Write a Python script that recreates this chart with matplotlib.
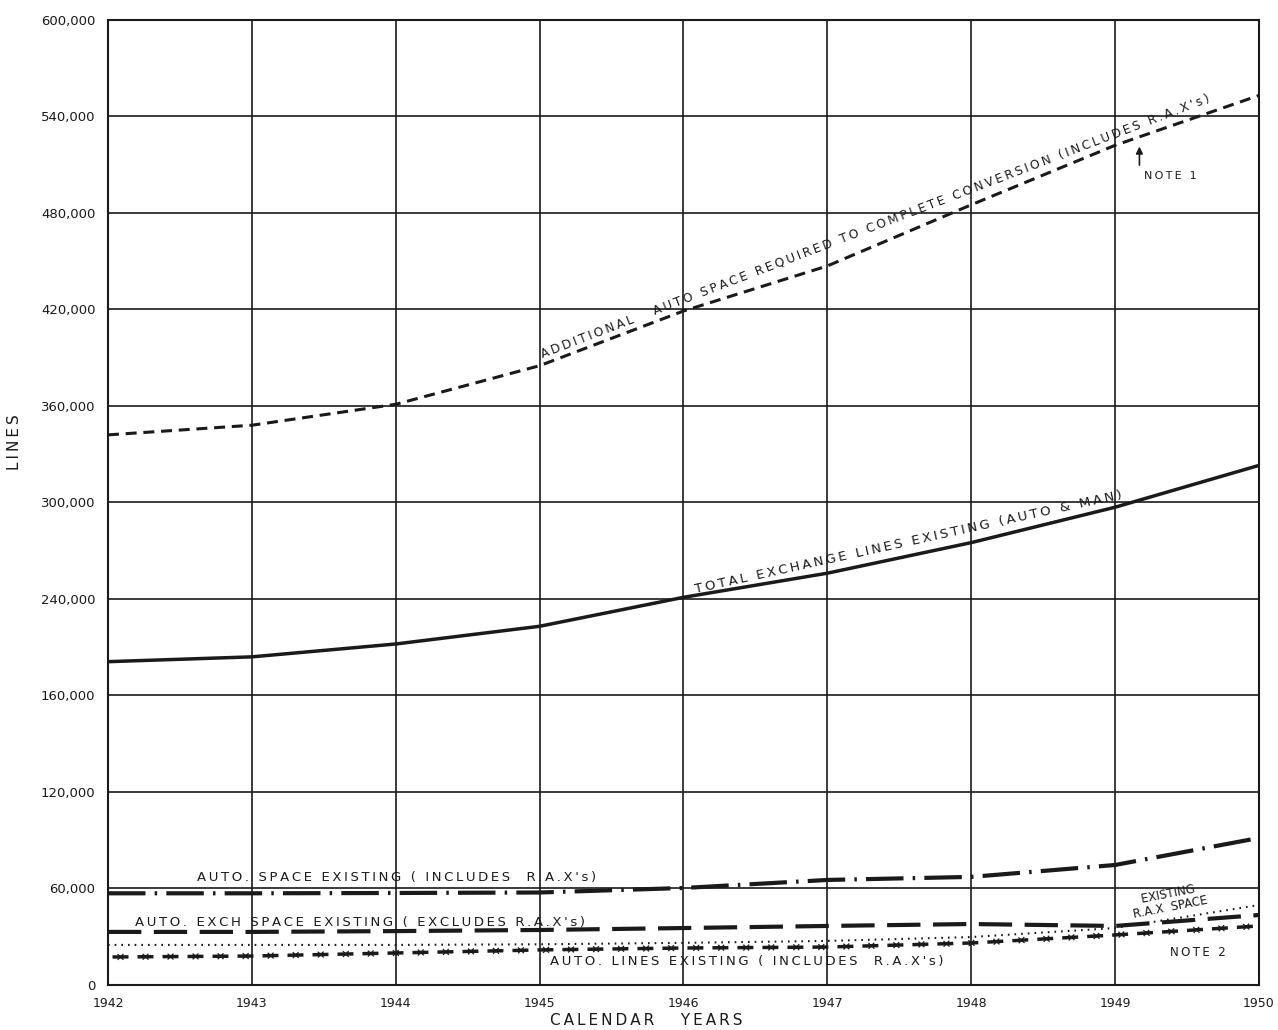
import matplotlib.pyplot as plt
from matplotlib import patheffects as pe

years = [1942, 1943, 1944, 1945, 1946, 1947, 1948, 1949, 1950]

# values (lines)
additional_space = [342000, 348000, 361000, 385000, 419000, 447000, 485000, 522000, 553000]
total_lines = [201000, 204000, 212000, 223000, 241000, 256000, 275000, 297000, 323000]
auto_space = [57000, 57000, 57200, 57500, 60300, 65300, 67200, 74600, 91400]
auto_exch_space = [33000, 33000, 33500, 34200, 35400, 36700, 37900, 36700, 43500]
rax_space = [24900, 24900, 24900, 25300, 26200, 27400, 29800, 35400, 49700]
auto_lines = [17400, 18000, 19900, 21800, 23000, 23600, 26100, 31100, 36700]

y_ticks = [0, 60000, 120000, 180000, 240000, 300000, 360000, 420000, 480000, 540000, 600000]
y_labels = ["0", "60,000", "120,000", "160,000", "240,000", "300,000", "360,000",
            "420,000", "480,000", "540,000", "600,000"]

plt.rcParams['font.family'] = ['DejaVu Sans']
ink = '#1a1a1a'


def spaced(s):
    # hand lettering is widely spaced
    return '\u2009'.join(s)


fig = plt.figure(figsize=(12.78, 10.30), dpi=100)
ax = fig.add_axes([0.0845, 0.0437, 0.9005, 0.937])

ax.set_xlim(1942, 1950)
ax.set_ylim(0, 600000)
ax.set_xticks(years)
ax.set_xticklabels([str(y) for y in years], fontsize=9, color=ink)
ax.set_yticks(y_ticks)
ax.set_yticklabels(y_labels, fontsize=9.5, color=ink)
ax.tick_params(length=0, pad=9)
ax.grid(True, color=ink, linewidth=1.2)
for s in ax.spines.values():
    s.set_color(ink)
    s.set_linewidth(1.5)

# curves
ax.plot(years, additional_space, color=ink, linewidth=2.2, dashes=(3.6, 2.2))
ax.plot(years, total_lines, color=ink, linewidth=2.5)
ax.plot(years, auto_space, color=ink, linewidth=3, dashes=(9, 2.2, 0.6, 2.2))
ax.plot(years, auto_exch_space, color=ink, linewidth=3, dashes=(8, 3))
ax.plot(years, rax_space, color=ink, linewidth=1.5, dashes=(0.8, 2.4))
ax.plot(years, auto_lines, color=ink, linewidth=2.5, linestyle=(5.9, (4.6, 2.6)))
# small x marks sitting in the gaps of the auto lines curve
x_marks = [pe.TickedStroke(angle=a, spacing=18, length=0.14, linewidth=0.9)
           for a in (45, -135, 135, -45)]
ax.plot(years, auto_lines, color=ink, linewidth=1, path_effects=x_marks)

# labels along the curves
lbl = dict(fontsize=9.5, color=ink, ha='left', va='bottom')
ax.text(1945.03, 388000,
        spaced("ADDITIONAL   AUTO SPACE REQUIRED TO COMPLETE CONVERSION (INCLUDES R.A.X's)"),
        rotation=21, rotation_mode='anchor', fontsize=8.8, color=ink, ha='left', va='bottom')
ax.text(1946.09, 242000, spaced("TOTAL EXCHANGE LINES EXISTING (AUTO & MAN)"),
        rotation=12.5, rotation_mode='anchor', **lbl)
ax.text(1942.62, 62500, spaced("AUTO. SPACE EXISTING ( INCLUDES  R.A.X's)"), **lbl)
ax.text(1942.19, 34500, spaced("AUTO. EXCH SPACE EXISTING ( EXCLUDES R.A.X's)"), **lbl)
ax.text(1945.07, 10500, spaced("AUTO. LINES EXISTING ( INCLUDES  R.A.X's)"), **lbl)
ax.text(1949.1, 40000, "   EXISTING\nR.A.X  SPACE", rotation=11, fontsize=8.5,
        color=ink, ha='left', va='bottom', linespacing=0.95)
ax.text(1949.2, 503000, spaced("NOTE 1"), fontsize=8, color=ink, ha='left', va='center')
ax.text(1949.38, 20000, spaced("NOTE 2"), fontsize=8.5, color=ink, ha='left', va='center')
ax.annotate("", xy=(1949.17, 523000), xytext=(1949.17, 508000),
            arrowprops=dict(arrowstyle='-|>', color=ink, lw=1.2, mutation_scale=10))

ax.set_xlabel(spaced("CALENDAR   YEARS"), fontsize=11, color=ink)
ax.xaxis.set_label_coords(0.468, -0.029)
ax.set_ylabel(spaced("LINES"), fontsize=11, color=ink)
ax.yaxis.set_label_coords(-0.075, 0.563)

fig.savefig("out.png", dpi=100)
